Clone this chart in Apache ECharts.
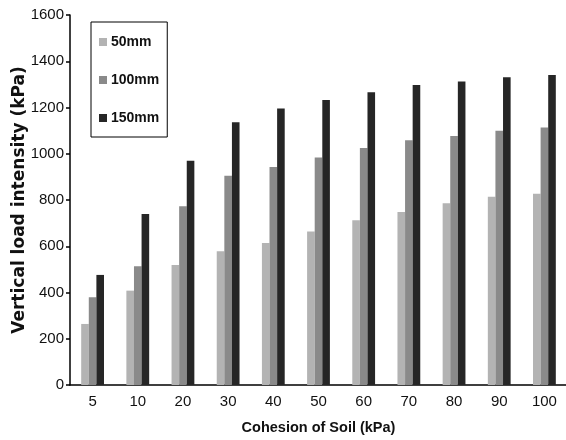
<!DOCTYPE html>
<html>
<head>
<meta charset="utf-8">
<script src="https://cdn.jsdelivr.net/npm/echarts@6/dist/echarts.min.js"></script>
<style>
  html, body { margin: 0; padding: 0; background: #fff; }
  #chart { width: 566px; height: 440px; }
</style>
</head>
<body>
<div id="chart"></div>
<script>
// Cohesion of soil (kPa) along the x axis
const categories = ['5', '10', '20', '30', '40', '50', '60', '70', '80', '90', '100'];

// Vertical load intensity (kPa) for each footing width
const load50mm  = [264, 408, 519, 578, 614, 664, 712, 748, 786, 814, 827];
const load100mm = [379, 513, 773, 905, 943, 984, 1025, 1058, 1077, 1100, 1113];
const load150mm = [476, 739, 970, 1136, 1196, 1232, 1266, 1297, 1312, 1331, 1341];

const seriesNames = ['50mm', '100mm', '150mm'];
const yTicks = [0, 200, 400, 600, 800, 1000, 1200, 1400, 1600];

const sans = '"Liberation Sans", Arial, sans-serif';
const colors = ['#b3b3b3', '#8a8a8a', '#262626'];

const chart = echarts.init(document.getElementById('chart'), null, { renderer: 'canvas' });

function barSeries(name, data, color) {
  return {
    name: name,
    type: 'bar',
    data: data,
    barWidth: 7.6,
    barGap: '0%',
    itemStyle: { color: color },
    animation: false
  };
}

chart.setOption({
  backgroundColor: '#ffffff',
  animation: false,
  color: colors,
  grid: {
    left: 70, top: 15, width: 497, bottom: 55,
    containLabel: false,
    outerBoundsMode: 'none'
  },
  legend: {
    orient: 'vertical',
    left: 91,
    top: 22,
    padding: [10, 8, 9, 8],
    borderColor: '#000',
    borderWidth: 1,
    itemWidth: 8,
    itemHeight: 8,
    itemGap: 18,
    icon: 'rect',
    data: seriesNames,
    textStyle: {
      fontFamily: sans,
      fontWeight: 'bold',
      fontSize: 14,
      lineHeight: 20,
      color: '#111',
      padding: [0, 0, 0, -1]
    }
  },
  xAxis: {
    type: 'category',
    data: categories,
    name: 'Cohesion of Soil (kPa)',
    nameLocation: 'middle',
    nameGap: 35,
    nameTextStyle: {
      fontFamily: sans,
      fontWeight: 'bold',
      fontSize: 14.5,
      color: '#111'
    },
    axisLine: { lineStyle: { color: '#000', width: 1.5 } },
    axisTick: { show: false },
    axisLabel: {
      fontFamily: sans,
      fontSize: 15,
      color: '#111',
      margin: 9,
      interval: 0
    }
  },
  yAxis: {
    type: 'value',
    min: yTicks[0],
    max: yTicks[yTicks.length - 1],
    interval: 200,
    name: 'Vertical load intensity (kPa)',
    nameLocation: 'middle',
    nameGap: 42,
    nameMoveOverlap: false,
    nameTextStyle: {
      fontFamily: '"DejaVu Sans", Verdana, sans-serif',
      fontWeight: 'bold',
      fontSize: 17,
      color: '#111'
    },
    axisLine: { show: true, lineStyle: { color: '#000', width: 1.5 } },
    axisTick: { show: true, inside: false, length: 4, lineStyle: { color: '#000', width: 1.5 } },
    splitLine: { show: false },
    axisLabel: {
      fontFamily: sans,
      fontSize: 15,
      color: '#111',
      margin: 6,
      formatter: function (v) { return String(v); }
    }
  },
  series: [
    barSeries(seriesNames[0], load50mm, colors[0]),
    barSeries(seriesNames[1], load100mm, colors[1]),
    barSeries(seriesNames[2], load150mm, colors[2])
  ]
});
</script>
</body>
</html>
